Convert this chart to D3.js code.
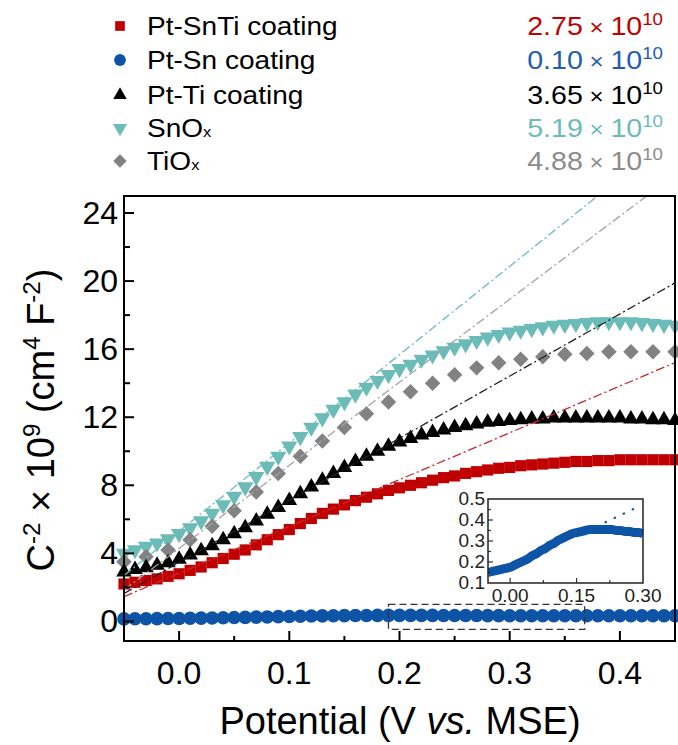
<!DOCTYPE html>
<html>
<head>
<meta charset="utf-8">
<script src="https://cdn.jsdelivr.net/npm/d3@7"></script>
<style>
  body { margin: 0; background: #fff; }
  svg text { font-family: "Liberation Sans", Arial, sans-serif; }
</style>
</head>
<body>
<svg id="canvas" width="678" height="745"></svg>
<script>
// potential (V vs. MSE) for the dense series
const potential = [-0.05,-0.04,-0.03,-0.02,-0.01,0.00,0.01,0.02,0.03,0.04,
  0.05,0.06,0.07,0.08,0.09,0.10,0.11,0.12,0.13,0.14,
  0.15,0.16,0.17,0.18,0.19,0.20,0.21,0.22,0.23,0.24,
  0.25,0.26,0.27,0.28,0.29,0.30,0.31,0.32,0.33,0.34,
  0.35,0.36,0.37,0.38,0.39,0.40,0.41,0.42,0.43,0.44,0.45];
// TiOx was measured with a coarser step
const potentialTiOx = [-0.05,-0.03,-0.01,0.01,0.03,0.05,0.07,0.09,0.11,0.13,
  0.15,0.17,0.19,0.21,0.23,0.25,0.27,0.29,0.31,0.33,0.35,0.37,0.39,0.41,0.43,0.45];

// C^-2 x 10^9 (cm^4 F^-2)
const ptSnTi = [2.2,2.3,2.4,2.5,2.65,2.8,3.0,3.2,3.45,3.7,
  3.95,4.2,4.5,4.8,5.1,5.4,5.75,6.05,6.35,6.6,
  6.85,7.1,7.3,7.5,7.7,7.85,8.0,8.15,8.3,8.45,
  8.55,8.7,8.8,8.9,9.0,9.05,9.15,9.2,9.25,9.3,
  9.35,9.4,9.4,9.45,9.45,9.5,9.5,9.5,9.5,9.5,9.5];
const ptSn = [0.15,0.155,0.16,0.165,0.17,0.175,0.185,0.195,0.205,0.215,
  0.23,0.24,0.255,0.265,0.28,0.29,0.305,0.315,0.325,0.335,
  0.34,0.345,0.35,0.355,0.355,0.355,0.355,0.355,0.355,0.35,
  0.35,0.345,0.345,0.34,0.34,0.335,0.335,0.335,0.33,0.33,
  0.33,0.33,0.33,0.33,0.33,0.33,0.33,0.33,0.33,0.33,0.33];
const ptTi = [2.9,3.05,3.15,3.3,3.45,3.65,3.9,4.15,4.45,4.8,
  5.15,5.5,5.9,6.3,6.7,7.1,7.5,7.9,8.3,8.7,
  9.05,9.4,9.7,10.0,10.3,10.55,10.75,10.95,11.1,11.25,
  11.4,11.5,11.6,11.7,11.75,11.8,11.85,11.9,11.9,11.95,
  11.95,11.95,11.95,11.95,11.95,11.95,11.9,11.9,11.85,11.85,11.8];
const snOx = [4.0,4.2,4.4,4.6,4.85,5.15,5.5,5.9,6.35,6.85,
  7.35,7.9,8.5,9.1,9.7,10.3,10.85,11.4,11.95,12.45,
  12.9,13.35,13.75,14.15,14.5,14.85,15.1,15.4,15.65,15.9,
  16.1,16.3,16.5,16.7,16.85,17.0,17.1,17.2,17.3,17.4,
  17.45,17.5,17.55,17.6,17.6,17.6,17.6,17.55,17.5,17.45,17.4];
const tiOx = [3.5,3.8,4.2,4.8,5.6,6.5,7.6,8.7,9.7,10.6,
  11.4,12.2,12.9,13.5,14.0,14.5,14.9,15.2,15.4,15.55,
  15.7,15.75,15.85,15.85,15.85,15.85];

// linear Mott-Schottky fits: slope (x10^9 per V) and x-intercept (V)
const seriesNames = ["Pt-SnTi coating", "Pt-Sn coating", "Pt-Ti coating", "SnOx", "TiOx"];
const fitSlopes = [27.5, 1.0, 36.5, 51.9, 48.8];
const fitXIntercepts = [-0.103, -0.174, -0.095, -0.102, -0.088];
const fitLabels = ["2.75", "0.10", "3.65", "5.19", "4.88"];

const xTicks = [0.0, 0.1, 0.2, 0.3, 0.4];
const yTicks = [0, 4, 8, 12, 16, 20, 24];
const insetXTicks = [0.00, 0.15, 0.30];
const insetYTicks = [0.1, 0.2, 0.3, 0.4, 0.5];

const colors = ["#c00000", "#0d54a6", "#000000", "#6bbcb8", "#828282"];
const lineColors = ["#c8282d", "#0d54a6", "#222222", "#6bbcb8", "#a3a3a3"];
const textColors = ["#c00000", "#1f5eb0", "#000000", "#6bbcb8", "#8c8c8c"];

let svg = d3.select("#canvas");
let pLeft = 124, pRight = 675, pTop = 196, pBottom = 641;

let x = d3.scaleLinear().domain([-0.05, 0.45]).range([pLeft, pRight]);
let y = d3.scaleLinear().domain([-1.15, 25]).range([pBottom, pTop]);

// clip for fit lines
svg.append("clipPath").attr("id", "plotclip")
  .append("rect").attr("x", pLeft).attr("y", pTop)
  .attr("width", pRight - pLeft).attr("height", pBottom - pTop);

// marker shapes
const shapes = [
  {type: d3.symbolSquare, size: 125, rot: 0},
  {type: d3.symbolCircle, size: 145, rot: 0},
  {type: d3.symbolTriangle, size: 105, rot: 0},
  {type: d3.symbolTriangle, size: 115, rot: 180},
  {type: d3.symbolSquare, size: 120, rot: 45}
];

function pairs(xs, ys) { return xs.map((v, i) => ({x: v, y: ys[i]})); }
const seriesData = [
  pairs(potential, ptSnTi),
  pairs(potential, ptSn),
  pairs(potential, ptTi),
  pairs(potential, snOx),
  pairs(potentialTiOx, tiOx)
];

// draw markers (cyan first, blue last)
[3, 4, 2, 0, 1].forEach(k => {
  let sym = d3.symbol().type(shapes[k].type).size(shapes[k].size);
  svg.append("g").selectAll("path")
    .data(seriesData[k])
    .join("path")
    .attr("d", sym)
    .attr("fill", colors[k])
    .attr("transform", d => "translate(" + x(d.x) + "," + y(d.y) + ") rotate(" + shapes[k].rot + ")");
});

// dash-dot fit lines
let fitLine = d3.line().x(d => x(d[0])).y(d => y(d[1]));
[3, 4, 2, 0].forEach(k => {
  let pts = x.domain().map(v => [v, fitSlopes[k] * (v - fitXIntercepts[k])]);
  svg.append("path")
    .attr("clip-path", "url(#plotclip)")
    .attr("d", fitLine(pts))
    .attr("fill", "none")
    .attr("stroke", lineColors[k])
    .attr("stroke-width", 1.3)
    .attr("stroke-dasharray", "9,3,2,3");
});

// dashed box marking the zoomed region
svg.append("rect")
  .attr("x", x(0.19)).attr("y", y(1.0))
  .attr("width", x(0.368) - x(0.19)).attr("height", y(-0.47) - y(1.0))
  .attr("fill", "none").attr("stroke", "#333")
  .attr("stroke-width", 1.3).attr("stroke-dasharray", "7,4");

// axes: ticks point inward
svg.append("g").selectAll("line")
  .data([0, 0.05, 0.1, 0.15, 0.2, 0.25, 0.3, 0.35, 0.4])
  .join("line")
  .attr("x1", d => x(d)).attr("x2", d => x(d))
  .attr("y1", pBottom).attr("y2", d => pBottom - (xTicks.some(t => Math.abs(t - d) < 1e-9) ? 10 : 5))
  .attr("stroke", "#000").attr("stroke-width", 2);
svg.append("g").selectAll("line")
  .data([0, 2, 4, 6, 8, 10, 12, 14, 16, 18, 20, 22, 24])
  .join("line")
  .attr("y1", d => y(d)).attr("y2", d => y(d))
  .attr("x1", pLeft).attr("x2", d => pLeft + (d % 4 === 0 ? 10 : 6))
  .attr("stroke", "#000").attr("stroke-width", 2);

svg.append("g").selectAll("text")
  .data(xTicks)
  .join("text")
  .attr("x", d => x(d)).attr("y", pBottom + 43)
  .attr("text-anchor", "middle")
  .attr("font-size", 32)
  .text(d => d.toFixed(1));
svg.append("g").selectAll("text")
  .data(yTicks)
  .join("text")
  .attr("x", pLeft - 6).attr("y", d => y(d) + 11)
  .attr("text-anchor", "end")
  .attr("font-size", 32)
  .text(d => d);

// frame
svg.append("rect")
  .attr("x", pLeft).attr("y", pTop)
  .attr("width", pRight - pLeft).attr("height", pBottom - pTop)
  .attr("fill", "none").attr("stroke", "#000").attr("stroke-width", 2);

// axis titles
svg.append("text")
  .attr("x", 400).attr("y", 734)
  .attr("text-anchor", "middle")
  .attr("font-size", 38)
  .call(t => {
    t.append("tspan").text("Potential (V ");
    t.append("tspan").attr("font-style", "italic").text("vs.");
    t.append("tspan").text(" MSE)");
  });

let yt = svg.append("text")
  .attr("transform", "translate(54,420) rotate(-90)")
  .attr("text-anchor", "middle")
  .attr("font-size", 38);
yt.append("tspan").text("C");
yt.append("tspan").attr("font-size", 24).attr("dy", -14).text("-2");
yt.append("tspan").attr("dy", 14).text(" \u00d7 10");
yt.append("tspan").attr("font-size", 24).attr("dy", -14).text("9");
yt.append("tspan").attr("dy", 14).text(" (cm");
yt.append("tspan").attr("font-size", 24).attr("dy", -14).text("4");
yt.append("tspan").attr("dy", 14).text(" F");
yt.append("tspan").attr("font-size", 24).attr("dy", -14).text("-2");
yt.append("tspan").attr("dy", 14).text(")");

// inset
let ix = d3.scaleLinear().domain([-0.05, 0.30]).range([488, 643]);
let iy = d3.scaleLinear().domain([0.1, 0.5]).range([583, 499]);
svg.append("rect")
  .attr("x", 488).attr("y", 499).attr("width", 643 - 488).attr("height", 583 - 499)
  .attr("fill", "#fff");
svg.append("clipPath").attr("id", "insetclip")
  .append("rect").attr("x", 488).attr("y", 499).attr("width", 155).attr("height", 84);
let insetData = seriesData[1].filter(d => d.x <= 0.30 + 1e-9);
svg.append("path")
  .attr("clip-path", "url(#insetclip)")
  .attr("d", d3.line().x(d => ix(d.x)).y(d => iy(d.y)).curve(d3.curveMonotoneX)(insetData))
  .attr("fill", "none").attr("stroke", colors[1]).attr("stroke-width", 9);
svg.append("path")
  .attr("d", d3.line().x(d => ix(d[0])).y(d => iy(d[1]))(
    [0.195, 0.29].map(v => [v, fitSlopes[1] * (v - fitXIntercepts[1])])))
  .attr("fill", "none").attr("stroke", colors[1]).attr("stroke-width", 2.2)
  .attr("stroke-linecap", "round").attr("stroke-dasharray", "0.5,9.5");
svg.append("g").selectAll("line")
  .data([0, 0.075, 0.15, 0.225])
  .join("line")
  .attr("x1", d => ix(d)).attr("x2", d => ix(d))
  .attr("y1", 583).attr("y2", (d, i) => 583 - (i % 2 === 0 ? 5 : 3))
  .attr("stroke", "#333").attr("stroke-width", 1.2);
svg.append("g").selectAll("line")
  .data([0.15, 0.2, 0.25, 0.3, 0.35, 0.4, 0.45])
  .join("line")
  .attr("y1", d => iy(d)).attr("y2", d => iy(d))
  .attr("x1", 488).attr("x2", (d, i) => 488 + (i % 2 === 0 ? 3 : 5))
  .attr("stroke", "#333").attr("stroke-width", 1.2);
svg.append("rect")
  .attr("x", 488).attr("y", 499).attr("width", 155).attr("height", 84)
  .attr("fill", "none").attr("stroke", "#222").attr("stroke-width", 1.5);
svg.append("g").selectAll("text")
  .data(insetXTicks)
  .join("text")
  .attr("x", d => ix(d)).attr("y", 602)
  .attr("text-anchor", "middle").attr("font-size", 19).attr("fill", "#222")
  .text(d => d.toFixed(2));
svg.append("g").selectAll("text")
  .data(insetYTicks)
  .join("text")
  .attr("x", 485).attr("y", d => iy(d) + 6)
  .attr("text-anchor", "end").attr("font-size", 19).attr("fill", "#222")
  .text(d => d.toFixed(1));

// legend (glyphs in the original are slightly wide, hence the x-stretch)
const rowY = [26, 60, 95, 128, 161];
let legend = svg.selectAll(".legend")
  .data(seriesNames)
  .join("g")
  .attr("class", "legend");
legend.append("path")
  .attr("d", (d, i) => d3.symbol().type(shapes[i].type).size(shapes[i].size * 0.75)())
  .attr("fill", (d, i) => colors[i])
  .attr("transform", (d, i) => "translate(120," + rowY[i] + ") rotate(" + shapes[i].rot + ")");
legend.append("text")
  .attr("transform", (d, i) => "translate(147," + (rowY[i] + 9) + ") scale(1.1,1)")
  .attr("font-size", 25.5)
  .each(function(d) {
    let t = d3.select(this);
    if (d.endsWith("Ox")) {
      t.append("tspan").text(d.slice(0, -1));
      t.append("tspan").attr("font-size", 15).text("x");
    } else {
      t.text(d);
    }
  });
legend.append("text")
  .attr("transform", (d, i) => "translate(663," + (rowY[i] + 9) + ") scale(1.1,1)")
  .attr("text-anchor", "end")
  .attr("font-size", 26)
  .attr("fill", (d, i) => textColors[i])
  .each(function(d, i) {
    let t = d3.select(this);
    t.append("tspan").text(fitLabels[i]);
    t.append("tspan").attr("font-size", 22).text(" \u00d7 ");
    t.append("tspan").text("10");
    t.append("tspan").attr("font-size", 17).attr("dy", -10).text("10");
  });
</script>
</body>
</html>
